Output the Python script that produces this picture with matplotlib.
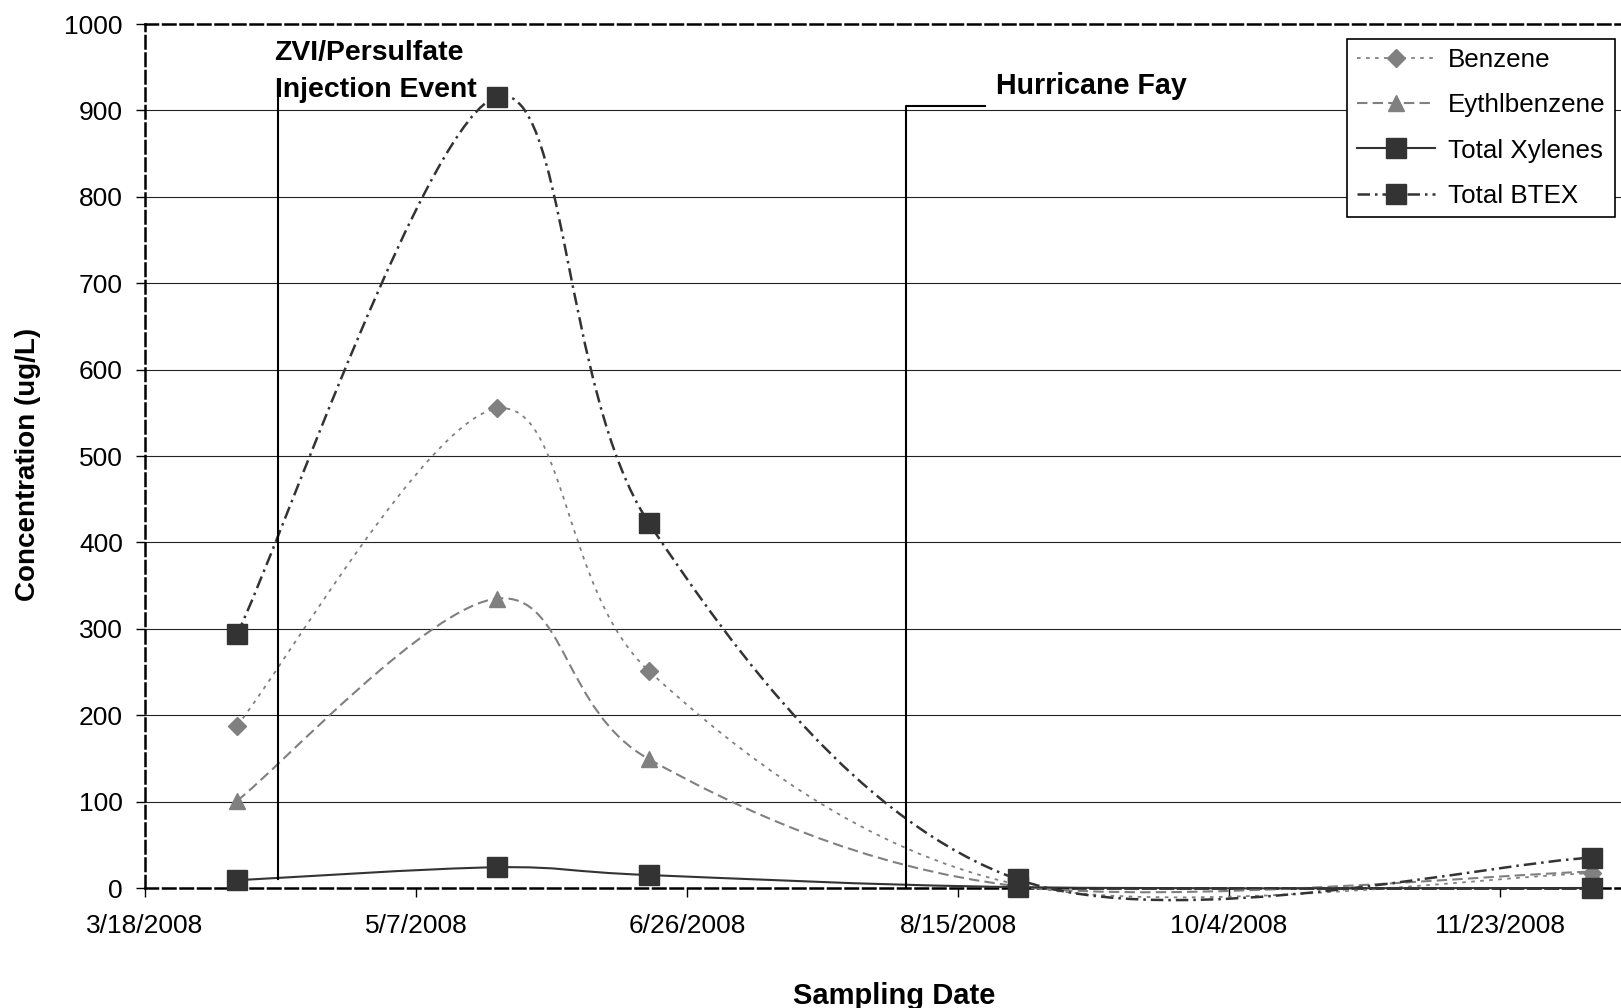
import matplotlib

matplotlib.use("Agg")

import matplotlib.pyplot as plt
import matplotlib.dates as mdates
from matplotlib.path import Path
from matplotlib.patches import PathPatch
from matplotlib.lines import Line2D
from matplotlib.ticker import FixedLocator, FuncFormatter
import numpy as np

plt.rcParams["font.family"] = ["Liberation Sans", "DejaVu Sans"]

# sampling events and concentrations (ug/L)
sample_dates = ["2008-04-04", "2008-05-22", "2008-06-19", "2008-08-26", "2008-12-10"]
benzene = [188, 555, 251, 4, 17]
ethylbenzene = [101, 335, 149, 2, 19]
total_xylenes = [9, 24, 15, 1, 0]
total_btex = [294, 916, 422, 10, 35]

# event markers
injection_date = "2008-04-11T12:00"
hurricane_date = "2008-08-05T10:00"
hurricane_arm_end = "2008-08-20"

axis_start = "2008-03-18"
axis_days = 272.3
tick_step = 50
y_ticks = list(range(0, 1001, 100))


def to_num(dates):
    return mdates.date2num(np.array(dates, dtype="datetime64[m]"))


def smooth_path(xs, ys):
    # Excel-style smoothed line: cubic Bezier through every point
    pts = np.column_stack([xs, ys]).astype(float)
    n = len(pts)
    verts = [pts[0]]
    codes = [Path.MOVETO]
    for i in range(n - 1):
        p0 = pts[max(i - 1, 0)]
        p1 = pts[i]
        p2 = pts[i + 1]
        p3 = pts[min(i + 2, n - 1)]
        verts += [p1 + (p2 - p0) / 6, p2 - (p3 - p1) / 6, p2]
        codes += [Path.CURVE4] * 3
    return Path(verts, codes)


x = to_num(sample_dates)
start = to_num([axis_start])[0]
inj = to_num([injection_date])[0]
hur = to_num([hurricane_date])[0]
hur_end = to_num([hurricane_arm_end])[0]

series = [
    ("Benzene", benzene, "#808080", 1.3, (0, (2, 3)), "D", 9),
    ("Eythlbenzene", ethylbenzene, "#808080", 1.5, (0, (5, 2.5)), "^", 11),
    ("Total Xylenes", total_xylenes, "#333333", 1.5, "-", "s", 14),
    ("Total BTEX", total_btex, "#333333", 1.8, (0, (5, 2, 1, 2)), "s", 14),
]

fig = plt.figure(figsize=(16.21, 10.08), dpi=100)
ax = fig.add_axes([145 / 1621, 120 / 1008, 1 - 145 / 1621, 864 / 1008])

handles = []
for name, vals, color, lw, ls, mk, ms in series:
    patch = PathPatch(smooth_path(x, vals), fill=False, edgecolor=color,
                      lw=lw, linestyle=ls, zorder=3, clip_on=False)
    ax.add_patch(patch)
    ax.plot(x, vals, ls="none", marker=mk, ms=ms, color=color, mec=color,
            zorder=4, clip_on=False)
    handles.append(Line2D([], [], color=color, lw=lw, linestyle=ls,
                          marker=mk, ms=ms, mec=color, label=name))

# event lines
ax.plot([inj, inj], [10, 915], color="black", lw=1.5, zorder=5)
ax.plot([hur, hur, hur_end], [0, 905, 905], color="black", lw=1.5, zorder=5,
        clip_on=False)
ax.text(inj - 0.6, 958, "ZVI/Persulfate", fontsize=20.4, fontweight="bold",
        va="baseline", ha="left", zorder=6)
ax.text(inj - 0.6, 916, "Injection Event", fontsize=20.4, fontweight="bold",
        va="baseline", ha="left", zorder=6)
ax.text(hur_end + 2.0, 919, "Hurricane Fay", fontsize=20.6, fontweight="bold",
        va="baseline", ha="left", zorder=6)

ax.set_xlim(start, start + axis_days)
ax.set_ylim(0, 1000)

ax.xaxis.set_major_locator(FixedLocator([start + tick_step * k for k in range(6)]))
ax.xaxis.set_major_formatter(FuncFormatter(
    lambda v, p: "{d.month}/{d.day}/{d.year}".format(d=mdates.num2date(v))))
ax.set_yticks(y_ticks)

ax.tick_params(axis="both", direction="out", length=6.5, width=1,
               labelsize=19, color="black")
ax.tick_params(axis="x", pad=12.5)
ax.tick_params(axis="y", pad=9.5)

ax.grid(True, axis="y", color="#222222", lw=0.8)
gl = ax.get_ygridlines()
gl[0].set_visible(False)
gl[-1].set_visible(False)

for side in ["top", "left", "bottom"]:
    ax.spines[side].set_linestyle((0, (5, 2)))
    ax.spines[side].set_linewidth(1.8)
    ax.spines[side].set_zorder(2.5)
ax.spines["right"].set_visible(False)

ax.set_xlabel("Sampling Date", fontsize=21, fontweight="bold")
ax.set_ylabel("Concentration (ug/L)", fontsize=20, fontweight="bold")
ax.xaxis.set_label_coords(0.5075, -0.1086)
ax.yaxis.set_label_coords(-0.0705, 0.49)

leg = fig.legend(handles=handles, loc="upper right",
                 bbox_to_anchor=(1615 / 1621, 1 - 38.5 / 1008),
                 fontsize=18.75, frameon=True, fancybox=False, framealpha=1,
                 edgecolor="black", handlelength=3.0, handletextpad=0.5,
                 labelspacing=0.82, borderpad=0.36, borderaxespad=0)
leg.get_frame().set_linewidth(1.2)

fig.savefig("out.png", dpi=100)
plt.close(fig)
